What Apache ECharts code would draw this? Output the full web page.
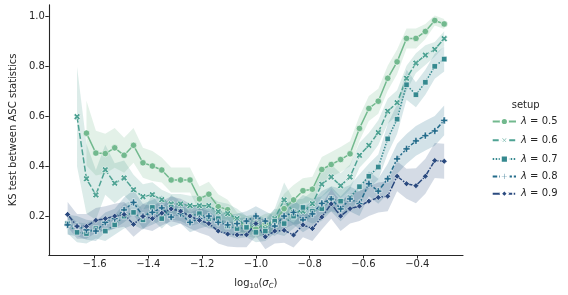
<!DOCTYPE html>
<html><head><meta charset="utf-8">
<script src="https://cdn.jsdelivr.net/npm/echarts@6/dist/echarts.min.js"></script>
<style>html,body{margin:0;padding:0;background:#fff}#c{width:568px;height:295px}</style>
</head><body><div id="c"></div>
<script>
// x positions: log10(sigma_c)
const xValues = [-1.700,-1.665,-1.630,-1.595,-1.560,-1.525,-1.490,-1.455,-1.420,-1.385,-1.350,-1.315,-1.280,-1.245,-1.210,-1.175,-1.140,-1.105,-1.070,-1.035,-1.000,-0.965,-0.930,-0.895,-0.860,-0.825,-0.790,-0.755,-0.720,-0.685,-0.650,-0.615,-0.580,-0.545,-0.510,-0.475,-0.440,-0.405,-0.370,-0.335,-0.300];

const seriesNames = ['0.5','0.6','0.7','0.8','0.9'];

const lam05 = [null,null,0.533,0.453,0.451,0.474,0.444,0.484,0.414,0.401,0.385,0.345,0.345,0.345,0.269,0.288,0.238,0.226,0.175,0.16,0.15,0.17,0.176,0.23,0.265,0.302,0.308,0.387,0.407,0.427,0.45,0.552,0.632,0.661,0.753,0.819,0.913,0.913,0.941,0.985,0.971];
const lam06 = [null,0.599,0.35,0.285,0.386,0.332,0.353,0.306,0.278,0.286,0.266,0.249,0.249,0.242,0.242,0.242,0.218,0.21,0.19,0.16,0.17,0.15,0.19,0.265,0.216,0.22,0.25,0.328,0.357,0.322,0.357,0.444,0.484,0.535,0.621,0.655,0.753,0.814,0.846,0.869,0.912];
const lam07 = [0.17,0.135,0.13,0.15,0.14,0.165,0.2,0.215,0.185,0.235,0.19,0.235,0.22,0.2,0.21,0.19,0.19,0.16,0.15,0.155,0.135,0.14,0.18,0.17,0.2,0.235,0.22,0.23,0.27,0.26,0.275,0.318,0.36,0.397,0.51,0.589,0.727,0.687,0.737,0.801,0.83];
const lam08 = [0.165,0.16,0.145,0.14,0.175,0.19,0.225,0.255,0.2,0.215,0.233,0.196,0.21,0.175,0.19,0.2,0.175,0.165,0.17,0.18,0.2,0.18,0.16,0.2,0.215,0.185,0.209,0.251,0.269,0.229,0.269,0.25,0.33,0.3,0.35,0.43,0.47,0.502,0.523,0.542,0.584];
const lam09 = [0.207,0.159,0.159,0.183,0.19,0.2,0.207,0.167,0.199,0.19,0.212,0.229,0.22,0.2,0.183,0.17,0.14,0.128,0.125,0.125,0.17,0.117,0.14,0.143,0.124,0.165,0.15,0.196,0.249,0.2,0.23,0.24,0.26,0.275,0.28,0.36,0.33,0.322,0.36,0.423,0.42];

// confidence-band half widths read from the shaded areas
const ci05 = [null,null,0.13,0.09,0.08,0.08,0.07,0.07,0.06,0.06,0.05,0.05,0.05,0.05,0.05,0.05,0.05,0.04,0.04,0.04,0.04,0.04,0.04,0.06,0.06,0.05,0.05,0.05,0.05,0.05,0.05,0.05,0.05,0.05,0.05,0.05,0.04,0.04,0.03,0.02,0.02];
const ci06 = [null,0.2,0.14,0.1,0.1,0.08,0.07,0.06,0.05,0.05,0.04,0.04,0.04,0.04,0.04,0.04,0.04,0.04,0.04,0.04,0.04,0.04,0.04,0.07,0.05,0.05,0.05,0.05,0.05,0.05,0.05,0.05,0.05,0.05,0.05,0.05,0.05,0.04,0.04,0.03,0.03];
const ci07 = [0.04,0.04,0.04,0.04,0.04,0.04,0.05,0.05,0.04,0.05,0.04,0.05,0.04,0.04,0.04,0.04,0.04,0.04,0.04,0.04,0.04,0.04,0.05,0.05,0.05,0.05,0.05,0.05,0.05,0.05,0.05,0.05,0.05,0.05,0.06,0.06,0.06,0.05,0.05,0.05,0.05];
const ci08 = [0.04,0.04,0.04,0.04,0.04,0.04,0.05,0.05,0.05,0.05,0.05,0.04,0.04,0.04,0.04,0.04,0.04,0.04,0.04,0.04,0.04,0.04,0.04,0.05,0.05,0.05,0.05,0.05,0.05,0.05,0.05,0.05,0.05,0.05,0.06,0.06,0.06,0.06,0.06,0.06,0.06];
const ci09 = [0.05,0.05,0.05,0.05,0.05,0.05,0.05,0.05,0.05,0.05,0.05,0.05,0.05,0.05,0.05,0.05,0.05,0.05,0.05,0.05,0.05,0.05,0.05,0.05,0.05,0.05,0.05,0.05,0.06,0.06,0.06,0.06,0.06,0.06,0.06,0.06,0.06,0.07,0.07,0.07,0.07];

const xTicks = [-1.6,-1.4,-1.2,-1.0,-0.8,-0.6,-0.4];
const yTicks = [0.2,0.4,0.6,0.8,1.0];

const values = [lam05, lam06, lam07, lam08, lam09];
const cis = [ci05, ci06, ci07, ci08, ci09];
const colors = ['#72b98e','#4ea293','#35898f','#246c8b','#2a4a7f'];
const plusPath = 'path://M-1,-3L1,-3L1,-1L3,-1L3,1L1,1L1,3L-1,3L-1,1L-3,1L-3,-1L-1,-1Z';
const symbols = ['circle', plusPath, 'rect', plusPath, 'diamond'];
const symRot = [0,45,0,0,0];
const symSize = [6.5,7,5.5,7,6];
const dashes = ['solid',[6,2.25],[1.5,1.5],[4.5,1.9,2.25,1.9],[7.5,1.5,1.5,1.5]];
const FONT = 'DejaVu Sans';
const TXT = '#262626';

function fmt(v){ return v.toFixed(1).replace('-', '\u2212'); }

const bandSeries = [], lineSeries = [];
values.forEach((arr, s) => {
  const rows = [], line = [];
  arr.forEach((v, i) => {
    if (v === null) return;
    rows.push([xValues[i], v - cis[s][i], v + cis[s][i]]);
    line.push([xValues[i], v]);
  });
  bandSeries.push({
    type: 'custom', name: 'band' + s, silent: true, z: 1,
    data: rows, encode: {x: 0, y: [1, 2]},
    renderItem: (params, api) => {
      if (params.dataIndex !== 0) return null;
      const pts = [];
      rows.forEach(r => pts.push(api.coord([r[0], r[2]])));
      for (let k = rows.length - 1; k >= 0; k--) pts.push(api.coord([rows[k][0], rows[k][1]]));
      return {type: 'polygon', shape: {points: pts}, style: {fill: colors[s], opacity: 0.2}};
    }
  });
  lineSeries.push({
    type: 'line', name: seriesNames[s], data: line, z: 3,
    symbol: symbols[s], symbolSize: symSize[s], symbolRotate: symRot[s],
    color: colors[s],
    lineStyle: {color: colors[s], width: 1.5, type: dashes[s]},
    itemStyle: {color: colors[s], borderColor: '#fff', borderWidth: 0.6}
  });
});

const chart = echarts.init(document.getElementById('c'), null, {renderer: 'canvas'});
chart.setOption({
  animation: false,
  backgroundColor: '#fff',
  textStyle: {fontFamily: FONT},
  grid: {left: 48.2, right: 105, top: 4.9, bottom: 36.7, containLabel: false},
  xAxis: {
    type: 'value', min: -1.77, max: -0.23,
    axisLine: {lineStyle: {color: TXT, width: 1.1}},
    axisTick: {length: 3.5, lineStyle: {color: TXT, width: 1}, customValues: xTicks},
    axisLabel: {customValues: xTicks, formatter: fmt, color: TXT, fontSize: 10, fontFamily: FONT, margin: 4},
    splitLine: {show: false},
    name: '{a|log}{s|10}{a|(}{i|σ}{si|C}{a|)}',
    nameLocation: 'middle', nameGap: 22,
    nameTextStyle: {
      color: TXT, fontFamily: FONT, fontSize: 10,
      rich: {
        a: {fontSize: 10, color: TXT, fontFamily: FONT},
        i: {fontSize: 10, color: TXT, fontFamily: FONT, fontStyle: 'italic'},
        s: {fontSize: 7, color: TXT, fontFamily: FONT, padding: [6,0,0,0]},
        si: {fontSize: 7, color: TXT, fontFamily: FONT, fontStyle: 'italic', padding: [6,0,0,0]}
      }
    }
  },
  yAxis: {
    type: 'value', min: 0.044, max: 1.0475,
    axisLine: {show: true, lineStyle: {color: TXT, width: 1.1}},
    axisTick: {show: true, length: 3.5, lineStyle: {color: TXT, width: 1}, customValues: yTicks},
    axisLabel: {customValues: yTicks, formatter: fmt, color: TXT, fontSize: 10, fontFamily: FONT, margin: 4},
    splitLine: {show: false},
    name: 'KS test between ASC statistics',
    nameLocation: 'middle', nameGap: 30,
    nameTextStyle: {color: TXT, fontFamily: FONT, fontSize: 10}
  },
  legend: {
    data: seriesNames,
    orient: 'vertical', left: 491.7, top: 116.5,
    itemWidth: 23.3, itemHeight: 9, itemGap: 7.3, padding: 0,
    formatter: n => '{i|λ} = ' + n,
    textStyle: {
      color: TXT, fontSize: 10, fontFamily: FONT,
      rich: {i: {fontStyle: 'italic', fontSize: 10, fontFamily: FONT, color: TXT}}
    }
  },
  graphic: [{
    type: 'text', left: 511.7, top: 100,
    style: {text: 'setup', fontSize: 10, fontFamily: FONT, fill: TXT}
  }],
  series: bandSeries.concat(lineSeries)
});
</script></body></html>
